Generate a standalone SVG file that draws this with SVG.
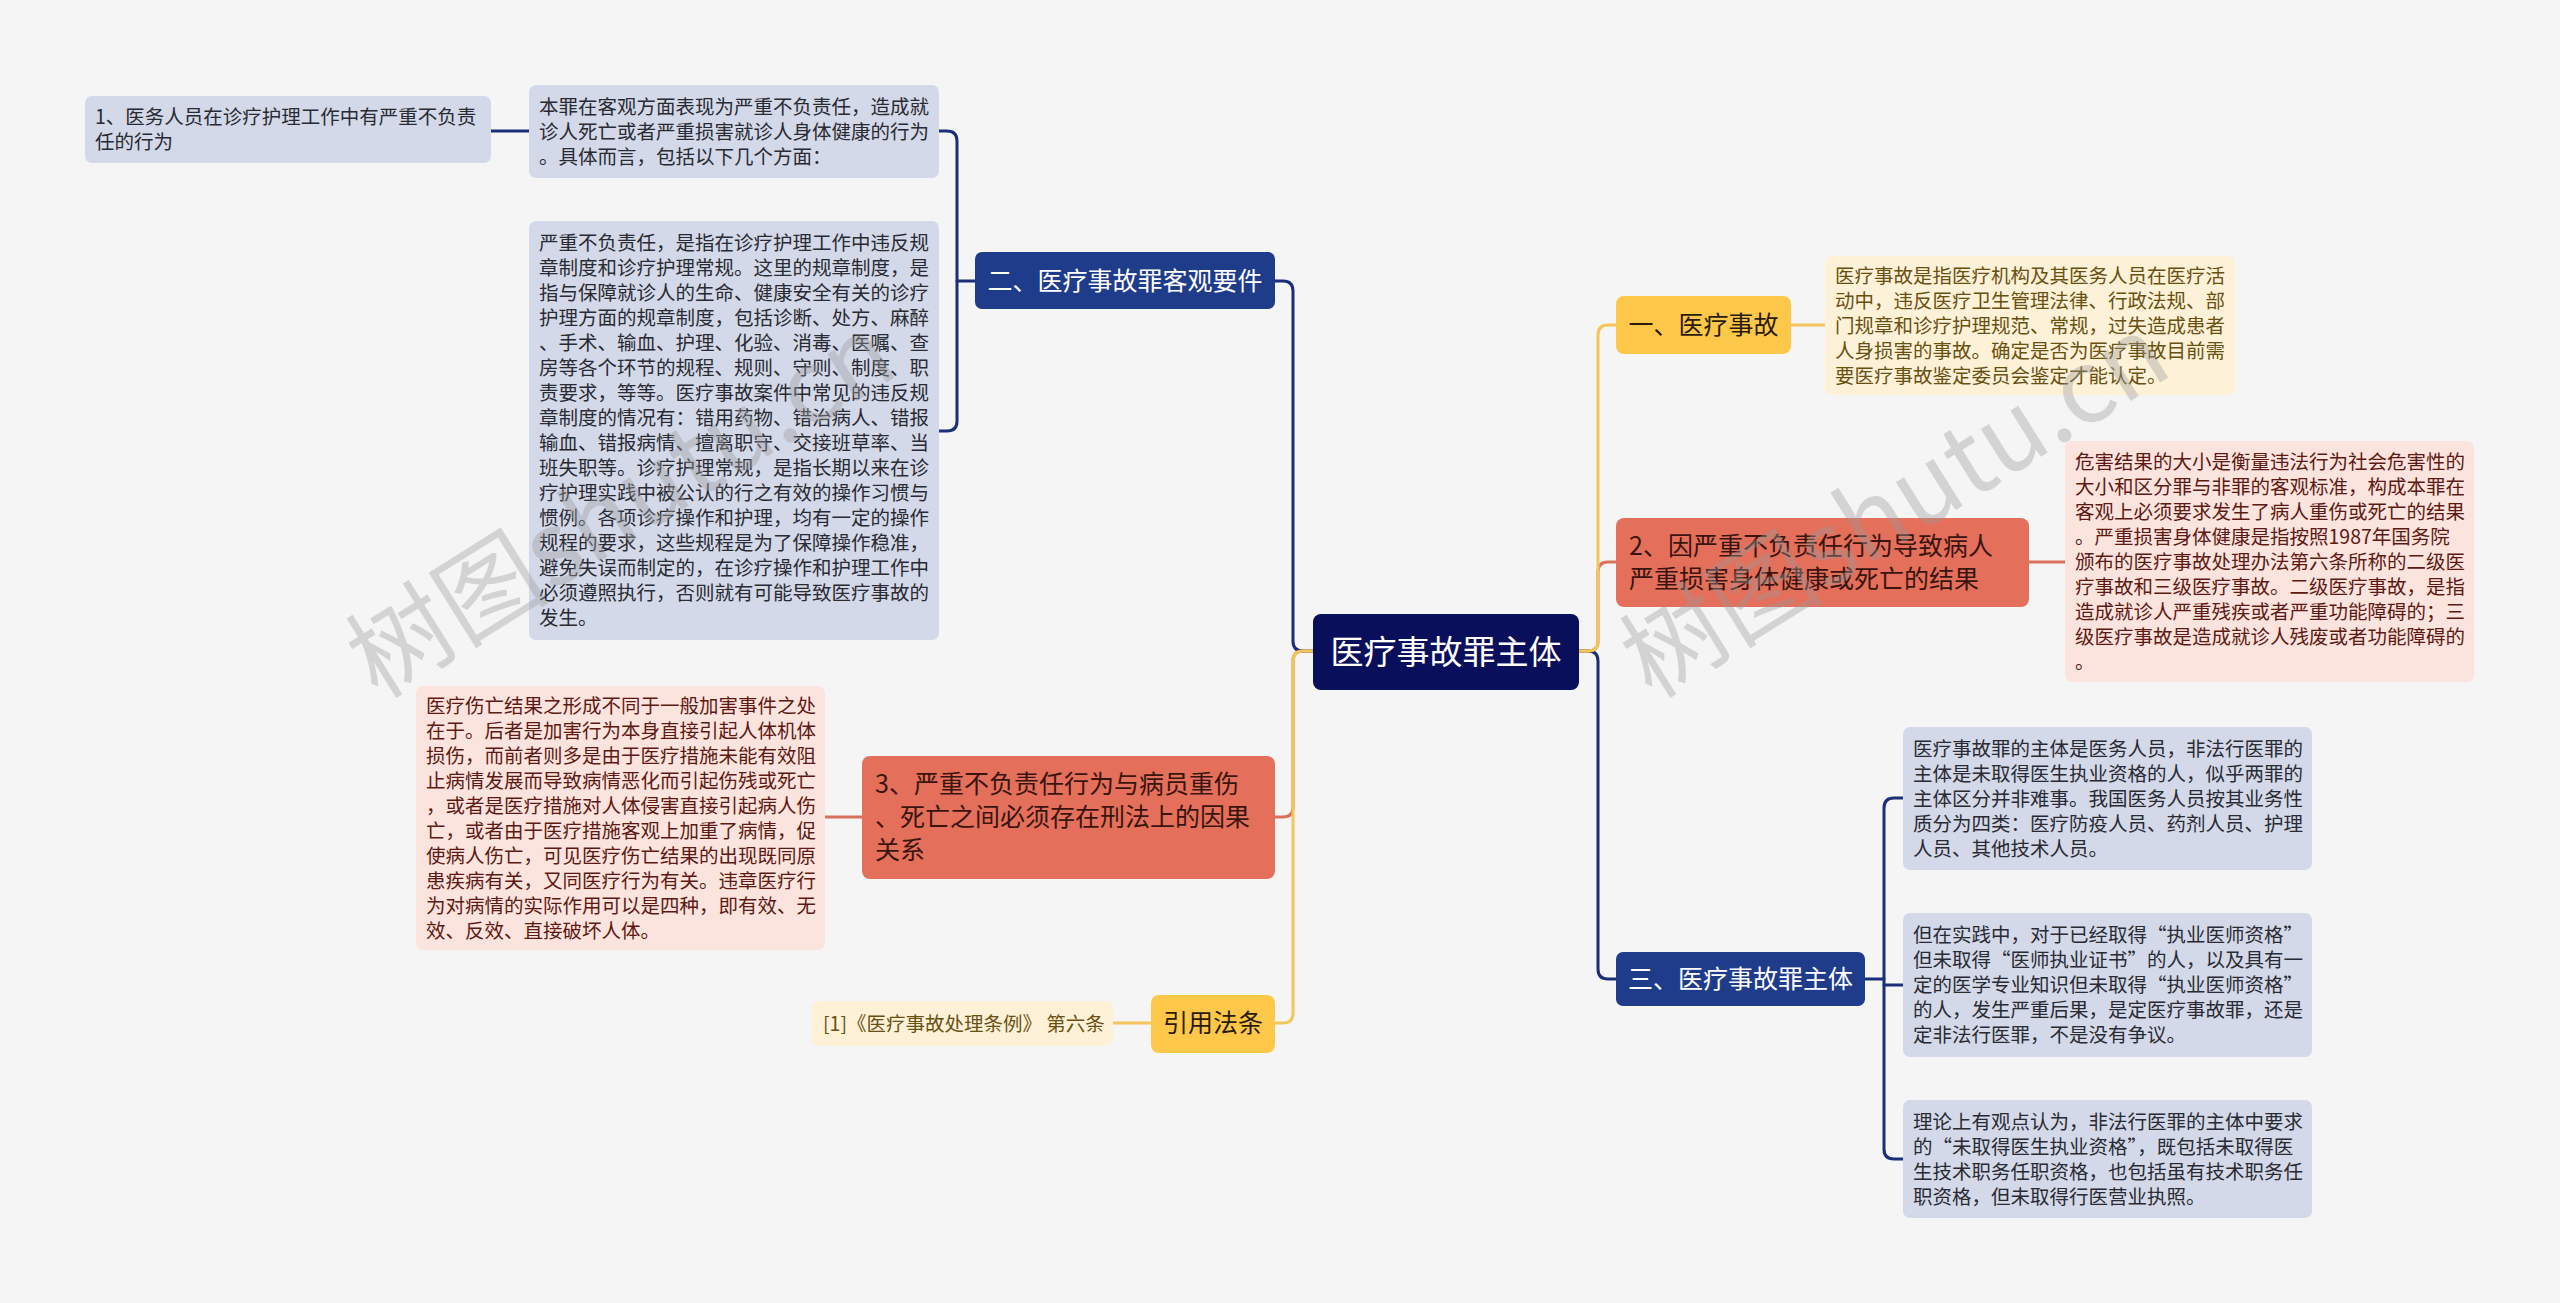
<svg xmlns="http://www.w3.org/2000/svg" width="2560" height="1303" viewBox="0 0 2560 1303">
<style>
text{font-family:"Noto Sans CJK SC","Noto Sans",sans-serif}
.c{fill:none;stroke-width:3;stroke-linecap:round;stroke-linejoin:round}
.cn{stroke:#1b2f78}.cy{stroke:#f3c65a}.cr{stroke:#da705c}
.root{fill:#0a0f5c}.nb{fill:#1f3c8b}.ny{fill:#fdc84a}.nr{fill:#e46f5a}
.lb{fill:#d3d9e8}.ly{fill:#fdf2d8}.lr{fill:#fbe3de}
.t{font-size:19.5px}
.tb{fill:#2a2a33}.ty{fill:#6a5010}.tr{fill:#5e1a12}
.tw{fill:#ffffff;font-size:25px}.td{fill:#2b1a0a;font-size:25px}.tdr{fill:#3a1510;font-size:25px}
.wm{font-size:102px;fill:#9a9a9a;fill-opacity:0.38}
</style>
<rect x="0" y="0" width="2560" height="1303" fill="#f5f5f5"/>
<g id="connectors">
<path class="c cn" d="M1313,651 H1303 Q1293,651 1293,641 V291 Q1293,281 1283,281 H1275"/>
<path class="c cr" d="M1313,651 H1303 Q1293,651 1293,661 V807 Q1293,817 1283,817 H1275"/>
<path class="c cy" d="M1313,651 H1303 Q1293,651 1293,661 V1013 Q1293,1023 1283,1023 H1275"/>
<path class="c cn" d="M975,281 H957"/>
<path class="c cn" d="M939,131 H947 Q957,131 957,141 V421 Q957,431 947,431 H939"/>
<path class="c cn" d="M529,131 H491"/>
<path class="c cr" d="M862,817 H825"/>
<path class="c cy" d="M1151,1023 H1113"/>
<path class="c cn" d="M1579,651 H1588 Q1598,651 1598,661 V969 Q1598,979 1608,979 H1616"/>
<path class="c cr" d="M1579,651 H1588 Q1598,651 1598,641 V572 Q1598,562 1608,562 H1616"/>
<path class="c cy" d="M1579,651 H1588 Q1598,651 1598,641 V335 Q1598,325 1608,325 H1616"/>
<path class="c cy" d="M1791,325 H1825"/>
<path class="c cr" d="M2029,562 H2065"/>
<path class="c cn" d="M1865,979 H1884"/>
<path class="c cn" d="M1903,798 H1894 Q1884,798 1884,808 V1149 Q1884,1159 1894,1159 H1903"/>
<path class="c cn" d="M1884,985 H1903"/>
</g>
<g id="root">
<rect class="root" x="1313" y="614" width="266" height="76" rx="8"/>
<text x="1446" y="664" text-anchor="middle" style="font-size:33px;fill:#fff">医疗事故罪主体</text>
</g>
<g id="n2">
<rect class="nb" x="975" y="252" width="300" height="57" rx="7"/>
<text class="tw" x="1125" y="290" text-anchor="middle">二、医疗事故罪客观要件</text>
</g>
<g id="n2-a">
<rect class="lb" x="529" y="85" width="410" height="93" rx="7"/>
<text class="t tb" x="539" y="113.5">本罪在客观方面表现为严重不负责任，造成就</text>
<text class="t tb" x="539" y="138.5">诊人死亡或者严重损害就诊人身体健康的行为</text>
<text class="t tb" x="539" y="163.5">。具体而言，包括以下几个方面：</text>
</g>
<g id="n2-a1">
<rect class="lb" x="85" y="96" width="406" height="67" rx="7"/>
<text class="t tb" x="95" y="124">1、医务人员在诊疗护理工作中有严重不负责</text>
<text class="t tb" x="95" y="149">任的行为</text>
</g>
<g id="n2-b">
<rect class="lb" x="529" y="221" width="410" height="419" rx="7"/>
<text class="t tb" x="539" y="250">严重不负责任，是指在诊疗护理工作中违反规</text>
<text class="t tb" x="539" y="275">章制度和诊疗护理常规。这里的规章制度，是</text>
<text class="t tb" x="539" y="300">指与保障就诊人的生命、健康安全有关的诊疗</text>
<text class="t tb" x="539" y="325">护理方面的规章制度，包括诊断、处方、麻醉</text>
<text class="t tb" x="539" y="350">、手术、输血、护理、化验、消毒、医嘱、查</text>
<text class="t tb" x="539" y="375">房等各个环节的规程、规则、守则、制度、职</text>
<text class="t tb" x="539" y="400">责要求，等等。医疗事故案件中常见的违反规</text>
<text class="t tb" x="539" y="425">章制度的情况有：错用药物、错治病人、错报</text>
<text class="t tb" x="539" y="450">输血、错报病情、擅离职守、交接班草率、当</text>
<text class="t tb" x="539" y="475">班失职等。诊疗护理常规，是指长期以来在诊</text>
<text class="t tb" x="539" y="500">疗护理实践中被公认的行之有效的操作习惯与</text>
<text class="t tb" x="539" y="525">惯例。各项诊疗操作和护理，均有一定的操作</text>
<text class="t tb" x="539" y="550">规程的要求，这些规程是为了保障操作稳准，</text>
<text class="t tb" x="539" y="575">避免失误而制定的，在诊疗操作和护理工作中</text>
<text class="t tb" x="539" y="600">必须遵照执行，否则就有可能导致医疗事故的</text>
<text class="t tb" x="539" y="625">发生。</text>
</g>
<g id="n3">
<rect class="nr" x="862" y="756" width="413" height="123" rx="8"/>
<text class="tdr" x="875" y="793">3、严重不负责任行为与病员重伤</text>
<text class="tdr" x="875" y="826">、死亡之间必须存在刑法上的因果</text>
<text class="tdr" x="875" y="859">关系</text>
</g>
<g id="n3-a">
<rect class="lr" x="416" y="686" width="409" height="264" rx="7"/>
<text class="t tr" x="426" y="712.5">医疗伤亡结果之形成不同于一般加害事件之处</text>
<text class="t tr" x="426" y="737.5">在于。后者是加害行为本身直接引起人体机体</text>
<text class="t tr" x="426" y="762.5">损伤，而前者则多是由于医疗措施未能有效阻</text>
<text class="t tr" x="426" y="787.5">止病情发展而导致病情恶化而引起伤残或死亡</text>
<text class="t tr" x="426" y="812.5">，或者是医疗措施对人体侵害直接引起病人伤</text>
<text class="t tr" x="426" y="837.5">亡，或者由于医疗措施客观上加重了病情，促</text>
<text class="t tr" x="426" y="862.5">使病人伤亡，可见医疗伤亡结果的出现既同原</text>
<text class="t tr" x="426" y="887.5">患疾病有关，又同医疗行为有关。违章医疗行</text>
<text class="t tr" x="426" y="912.5">为对病情的实际作用可以是四种，即有效、无</text>
<text class="t tr" x="426" y="937.5">效、反效、直接破坏人体。</text>
</g>
<g id="cite">
<rect class="ny" x="1151" y="995" width="124" height="58" rx="8"/>
<text class="td" x="1213" y="1032" text-anchor="middle">引用法条</text>
</g>
<g id="cite-a">
<rect class="ly" x="812" y="1001" width="301" height="45" rx="7"/>
<text class="t ty" x="823" y="1030.5">[1]《医疗事故处理条例》 第六条</text>
</g>
<g id="n1">
<rect class="ny" x="1616" y="296" width="175" height="58" rx="8"/>
<text class="td" x="1703.5" y="334" text-anchor="middle">一、医疗事故</text>
</g>
<g id="n1-a">
<rect class="ly" x="1825" y="256" width="410" height="139" rx="7"/>
<text class="t ty" x="1835" y="282.5">医疗事故是指医疗机构及其医务人员在医疗活</text>
<text class="t ty" x="1835" y="307.5">动中，违反医疗卫生管理法律、行政法规、部</text>
<text class="t ty" x="1835" y="332.5">门规章和诊疗护理规范、常规，过失造成患者</text>
<text class="t ty" x="1835" y="357.5">人身损害的事故。确定是否为医疗事故目前需</text>
<text class="t ty" x="1835" y="382.5">要医疗事故鉴定委员会鉴定才能认定。</text>
</g>
<g id="n4">
<rect class="nr" x="1616" y="518" width="413" height="89" rx="8"/>
<text class="tdr" x="1629" y="555">2、因严重不负责任行为导致病人</text>
<text class="tdr" x="1629" y="588">严重损害身体健康或死亡的结果</text>
</g>
<g id="n4-a">
<rect class="lr" x="2065" y="441" width="409" height="241" rx="7"/>
<text class="t tr" x="2075" y="468.5">危害结果的大小是衡量违法行为社会危害性的</text>
<text class="t tr" x="2075" y="493.5">大小和区分罪与非罪的客观标准，构成本罪在</text>
<text class="t tr" x="2075" y="518.5">客观上必须要求发生了病人重伤或死亡的结果</text>
<text class="t tr" x="2075" y="543.5">。严重损害身体健康是指按照1987年国务院</text>
<text class="t tr" x="2075" y="568.5">颁布的医疗事故处理办法第六条所称的二级医</text>
<text class="t tr" x="2075" y="593.5">疗事故和三级医疗事故。二级医疗事故，是指</text>
<text class="t tr" x="2075" y="618.5">造成就诊人严重残疾或者严重功能障碍的；三</text>
<text class="t tr" x="2075" y="643.5">级医疗事故是造成就诊人残废或者功能障碍的</text>
<text class="t tr" x="2075" y="668.5">。</text>
</g>
<g id="n5">
<rect class="nb" x="1616" y="952" width="249" height="54" rx="7"/>
<text class="tw" x="1740.5" y="988" text-anchor="middle">三、医疗事故罪主体</text>
</g>
<g id="n5-a">
<rect class="lb" x="1903" y="727" width="409" height="143" rx="7"/>
<text class="t tb" x="1913" y="755.5">医疗事故罪的主体是医务人员，非法行医罪的</text>
<text class="t tb" x="1913" y="780.5">主体是未取得医生执业资格的人，似乎两罪的</text>
<text class="t tb" x="1913" y="805.5">主体区分并非难事。我国医务人员按其业务性</text>
<text class="t tb" x="1913" y="830.5">质分为四类：医疗防疫人员、药剂人员、护理</text>
<text class="t tb" x="1913" y="855.5">人员、其他技术人员。</text>
</g>
<g id="n5-b">
<rect class="lb" x="1903" y="913" width="409" height="144" rx="7"/>
<text class="t tb" x="1913" y="942">但在实践中，对于已经取得“执业医师资格”</text>
<text class="t tb" x="1913" y="967">但未取得“医师执业证书”的人，以及具有一</text>
<text class="t tb" x="1913" y="992">定的医学专业知识但未取得“执业医师资格”</text>
<text class="t tb" x="1913" y="1017">的人，发生严重后果，是定医疗事故罪，还是</text>
<text class="t tb" x="1913" y="1042">定非法行医罪，不是没有争议。</text>
</g>
<g id="n5-c">
<rect class="lb" x="1903" y="1100" width="409" height="118" rx="7"/>
<text class="t tb" x="1913" y="1128.5">理论上有观点认为，非法行医罪的主体中要求</text>
<text class="t tb" x="1913" y="1153.5">的“未取得医生执业资格”，既包括未取得医</text>
<text class="t tb" x="1913" y="1178.5">生技术职务任职资格，也包括虽有技术职务任</text>
<text class="t tb" x="1913" y="1203.5">职资格，但未取得行医营业执照。</text>
</g>
<g id="watermark">
<text class="wm" transform="translate(378,700) rotate(-32)">树图shutu.cn</text>
<text class="wm" transform="translate(1652,700) rotate(-32)">树图shutu.cn</text>
</g>
</svg>
